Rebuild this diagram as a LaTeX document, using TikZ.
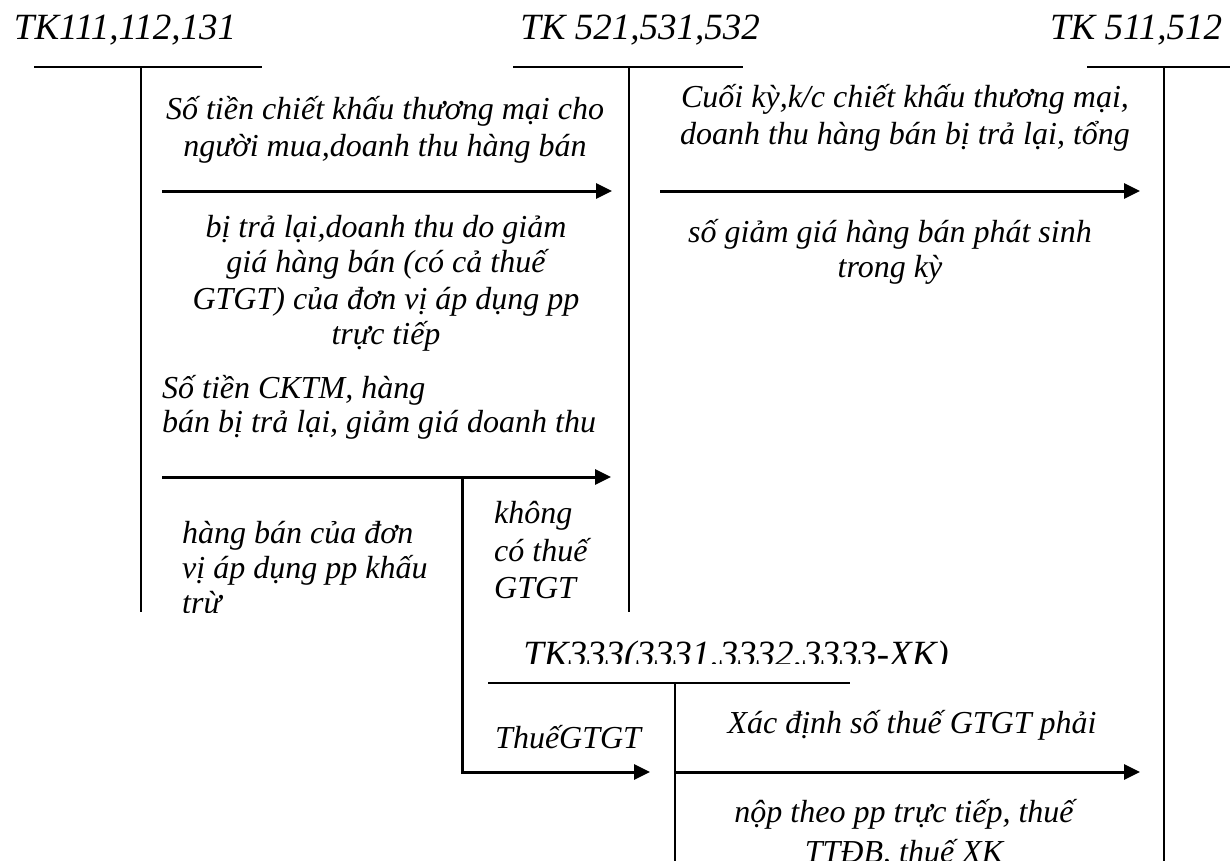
\documentclass[tikz,border=0pt]{standalone}
\usepackage{fontspec}
\setmainfont{Liberation Serif}
\usetikzlibrary{arrows.meta}
\tikzset{
  acct/.style={line width=1.8pt},
  flow/.style={line width=3pt,-{Triangle[length=16pt,width=15pt]}},
  head/.style={font=\fontsize{37}{44}\selectfont\itshape, inner sep=0pt, anchor=base},
  note/.style={font=\fontsize{32}{40}\selectfont\itshape, inner sep=0pt, anchor=base, align=center},
  notel/.style={note, align=left, anchor=base west},
}
\begin{document}
\begin{tikzpicture}[x=1pt,y=-1pt]
\useasboundingbox (0,0) rectangle (1230,861);

% account headings
\node[head] (h1) at (125,40) {TK111,112,131};
\node[head] (h2) at (640,40) {TK 521,531,532};
\node[head] (h3) at (1136,40) {TK 511,512};

% T-account frames
\coordinate (t1l) at (34,67);   \coordinate (t1r) at (262,67);
\coordinate (t1a) at (141,67);  \coordinate (t1b) at (141,612);
\coordinate (t2l) at (513,67);  \coordinate (t2r) at (743,67);
\coordinate (t2a) at (629,67);  \coordinate (t2b) at (629,612);
\coordinate (t3l) at (1087,67); \coordinate (t3r) at (1230,67);
\coordinate (t3a) at (1164,67); \coordinate (t3b) at (1164,861);
\coordinate (t4l) at (488,683); \coordinate (t4r) at (850,683);
\coordinate (t4a) at (675,683); \coordinate (t4b) at (675,861);
\draw[acct] (t1l) -- (t1r) (t1a) -- (t1b);
\draw[acct] (t2l) -- (t2r) (t2a) -- (t2b);
\draw[acct] (t3l) -- (t3r) (t3a) -- (t3b);
\draw[acct] (t4l) -- (t4r) (t4a) -- (t4b);

% flow arrows
\coordinate (a1s) at (162,191);  \coordinate (a1e) at (612,191);
\coordinate (a2s) at (660,191);  \coordinate (a2e) at (1140,191);
\coordinate (a3s) at (162,477);  \coordinate (a3e) at (611,477);
\coordinate (b0) at (462,477);   \coordinate (b1) at (462,772);
\coordinate (b2) at (650,772);
\coordinate (a4s) at (675,772);  \coordinate (a4e) at (1140,772);
\draw[flow] (a1s) -- (a1e);
\draw[flow] (a2s) -- (a2e);
\draw[flow] (a3s) -- (a3e);
\draw[flow] (b0) -- (b1) -- (b2);
\draw[flow] (a4s) -- (a4e);

% entry descriptions (each placed at the baseline of its last line)
\node[note] (n1) at (385,157) {Số tiền chiết khấu thương mại cho\\[-3pt]người mua,doanh thu hàng bán};
\node[note] (n2) at (386,344) {bị trả lại,doanh thu do giảm\\[-5pt]giá hàng bán (có cả thuế\\[-3pt]GTGT) của đơn vị áp dụng pp\\[-5pt]trực tiếp};
\node[note] (n3) at (905,145) {Cuối kỳ,k/c chiết khấu thương mại,\\[-3pt]doanh thu hàng bán bị trả lại, tổng};
\node[note] (n4) at (890,277) {số giảm giá hàng bán phát sinh\\[-5pt]trong kỳ};
\node[notel] (n5) at (162,432) {Số tiền CKTM, hàng\\[-6pt]bán bị trả lại, giảm giá doanh thu};
\begin{scope}
  \clip (0,0) rectangle (1230,612);
  \node[notel] (n6) at (182,613) {hàng bán của đơn\\[-5pt]vị áp dụng pp khấu\\[-5pt]trừ};
  \node[notel] (n7) at (494,598) {không\\[-2pt]có thuế\\[-3pt]GTGT};
\end{scope}
\begin{scope}
  \clip (0,0) rectangle (1230,663);
  \node[head] (h4) at (736,666) {TK333(3331.3332.3333-XK)};
\end{scope}
\node[notel] (n8) at (495,748) {ThuếGTGT};
\node[note] (n9) at (912,733) {Xác định số thuế GTGT phải};
\node[note] (n10) at (904,862) {nộp theo pp trực tiếp, thuế\\TTĐB, thuế XK};
\end{tikzpicture}
\end{document}
